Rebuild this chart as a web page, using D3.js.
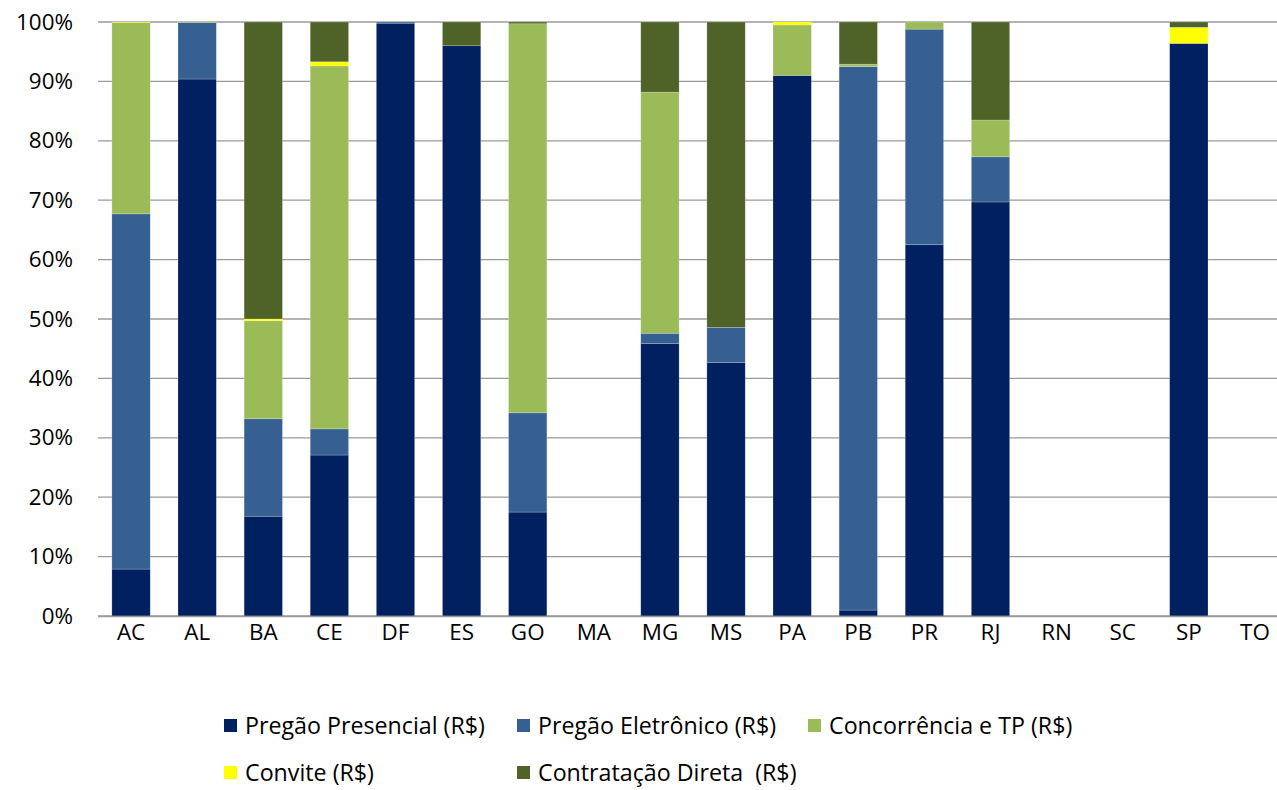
<!DOCTYPE html>
<html><head><meta charset="utf-8">
<script src="https://cdn.jsdelivr.net/npm/d3@7"></script>
<style>body{margin:0;background:#fff;} text{font-family:"Open Sans", sans-serif;}</style>
</head><body>
<svg id="c" width="1277" height="790"></svg>
<script>
const categories = ["AC","AL","BA","CE","DF","ES","GO","MA","MG","MS","PA","PB","PR","RJ","RN","SC","SP","TO"];
const seriesNames = ["Pregão Presencial (R$)","Pregão Eletrônico (R$)","Concorrência e TP (R$)","Convite (R$)","Contratação Direta  (R$)"];
const presencial   = [7.9, 90.4, 16.8, 27.1, 99.8, 96.0, 17.5, 0, 45.9, 42.7, 91.0, 1.0, 62.5, 69.7, 0, 0, 96.4, 0];
const eletronico   = [59.8, 9.5, 16.4, 4.4, 0.2, 0, 16.7, 0, 1.7, 5.9, 0, 91.5, 36.3, 7.6, 0, 0, 0, 0];
const concorrencia = [32.2, 0.1, 16.5, 61.1, 0, 0, 65.5, 0, 40.6, 0, 8.5, 0.4, 1.2, 6.2, 0, 0, 0, 0];
const convite      = [0.1, 0, 0.3, 0.7, 0, 0, 0, 0, 0, 0, 0.5, 0, 0, 0, 0, 0, 2.7, 0];
const contratacao  = [0, 0, 50.0, 6.7, 0, 4.0, 0.3, 0, 11.8, 51.4, 0, 7.1, 0, 16.5, 0, 0, 0.9, 0];
const yTicks = [0,10,20,30,40,50,60,70,80,90,100];
const colors = ["#002060","#366092","#9BBB59","#FFFF00","#4F6228"];

(function(){
const svg = d3.select("#c");
const pl = 98, pr = 1288, pt = 22, pb = 616;
const x = d3.scaleBand().domain(categories).range([pl, pr]).paddingInner(0.42).paddingOuter(0.21);
const y = d3.scaleLinear().domain([0,100]).range([pb, pt]);

// measure font sizes to match reference text widths
function fitSize(str, target){
  const t = svg.append("text").attr("font-size",20).text(str);
  const w = t.node().getComputedTextLength(); t.remove();
  return 20*target/w;
}
const tickSize = fitSize("100%", 57);
const legSize = fitSize("Pregão Presencial (R$)", 240);

svg.append("g").selectAll("line").data(yTicks).join("line")
  .attr("x1", pl).attr("x2", 1277).attr("y1", d=>y(d)).attr("y2", d=>y(d))
  .attr("stroke", "#9a9a9a").attr("stroke-width", 1.3);

const rows = categories.map((c,i)=>({cat:c, s0:presencial[i], s1:eletronico[i], s2:concorrencia[i], s3:convite[i], s4:contratacao[i]}));
const stack = d3.stack().keys(["s0","s1","s2","s3","s4"])(rows);
svg.append("g").selectAll("g").data(stack).join("g").attr("fill",(d,i)=>colors[i])
  .selectAll("rect").data(d=>d.filter(e=>e[1]-e[0]>0)).join("rect")
  .attr("x", d=>x(d.data.cat)).attr("width", x.bandwidth())
  .attr("y", d=>y(d[1])).attr("height", d=>Math.max(0, y(d[0])-y(d[1])))
  .attr("stroke","rgba(255,255,255,0.35)").attr("stroke-width",0.6);

const yAxis = d3.axisLeft(y).tickValues(yTicks).tickFormat(d=>d+"%").tickSize(0).tickPadding(25);
const ya = svg.append("g").attr("transform",`translate(${pl},0)`).call(yAxis);
ya.select(".domain").remove();
ya.selectAll("text").attr("font-size",tickSize).attr("fill","#000").attr("font-family","'Open Sans', sans-serif");

const xAxis = d3.axisBottom(x).tickSize(0).tickPadding(8);
const xa = svg.append("g").attr("transform",`translate(0,${pb})`).call(xAxis);
xa.select(".domain").attr("stroke","#9a9a9a").attr("stroke-width",1.3).attr("d",`M${pl},0.5H1277`);
xa.selectAll("text").attr("font-size",tickSize).attr("fill","#000").attr("font-family","'Open Sans', sans-serif");

const legendPos = [[224,726],[517,726],[808,726],[224,773],[517,773]];
const lg = svg.append("g").selectAll("g").data(seriesNames).join("g")
  .attr("transform",(d,i)=>`translate(${legendPos[i][0]},${legendPos[i][1]})`);
lg.append("rect").attr("x",0).attr("y",-7).attr("width",13).attr("height",13).attr("fill",(d,i)=>colors[i]);
lg.append("text").attr("x",21).attr("y",0).attr("dy","0.35em").attr("font-size",legSize).attr("fill","#000")
  .style("white-space","pre").text(d=>d);
})();
</script>
</body></html>
